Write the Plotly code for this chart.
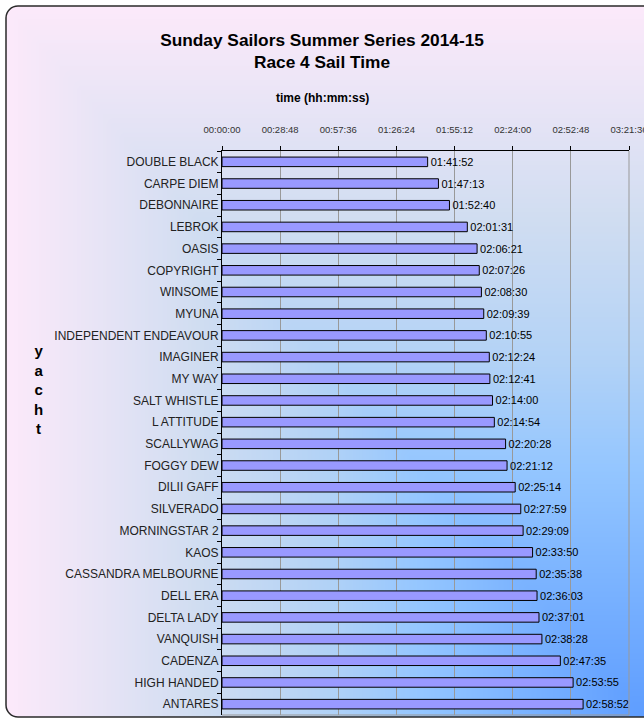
import numpy as np
import plotly.graph_objects as go

# ---------------- data ----------------
yachts = [
    "DOUBLE BLACK", "CARPE DIEM", "DEBONNAIRE", "LEBROK", "OASIS", "COPYRIGHT",
    "WINSOME", "MYUNA", "INDEPENDENT ENDEAVOUR", "IMAGINER", "MY WAY",
    "SALT WHISTLE", "L ATTITUDE", "SCALLYWAG", "FOGGY DEW", "DILII GAFF",
    "SILVERADO", "MORNINGSTAR 2", "KAOS", "CASSANDRA MELBOURNE", "DELL ERA",
    "DELTA LADY", "VANQUISH", "CADENZA", "HIGH HANDED", "ANTARES",
]
sail_times = [
    "01:41:52", "01:47:13", "01:52:40", "02:01:31", "02:06:21", "02:07:26",
    "02:08:30", "02:09:39", "02:10:55", "02:12:24", "02:12:41",
    "02:14:00", "02:14:54", "02:20:28", "02:21:12", "02:25:14",
    "02:27:59", "02:29:09", "02:33:50", "02:35:38", "02:36:03",
    "02:37:01", "02:38:28", "02:47:35", "02:53:55", "02:58:52",
]
tick_labels = ["00:00:00", "00:28:48", "00:57:36", "01:26:24",
               "01:55:12", "02:24:00", "02:52:48", "03:21:36"]


def to_sec(s):
    h, m, sec = (int(p) for p in s.split(":"))
    return h * 3600 + m * 60 + sec


secs = [to_sec(t) for t in sail_times]
tick_secs = [to_sec(t) for t in tick_labels]

# ---------------- geometry helpers ----------------
W, H = 644, 722


def px(x):
    return x / W


def py(y):
    return 1 - y / H


FONT = "Arial, 'Liberation Sans', sans-serif"

# ---------------- background gradient (Excel "from corner" style) ----------------
n = 61
u = np.linspace(0, 1, n)
v = np.linspace(0, 1, n)
Z = np.minimum(u[None, :], v[:, None])
bg_scale = [
    [0.0, "#fce9fa"], [0.1, "#eee6f7"], [0.3, "#d0ddf1"], [0.5, "#b2d2f6"],
    [0.65, "#94c6ff"], [0.8, "#7cb4ff"], [1.0, "#5e9dff"],
]

fig = go.Figure()
fig.add_trace(go.Heatmap(
    x=u, y=v, z=Z, colorscale=bg_scale, zsmooth="best", showscale=False,
    hoverinfo="skip", xaxis="x", yaxis="y",
))

fig.add_trace(go.Bar(
    y=yachts, x=secs, orientation="h", width=0.44,
    marker=dict(color="#9999ff", line=dict(color="#000000", width=1)),
    text=sail_times, textposition="outside", constraintext="none",
    textfont=dict(family=FONT, size=11, color="#000000"),
    cliponaxis=False, xaxis="x2", yaxis="y2", hoverinfo="skip",
))

x0, x1 = 222, 629
y0, y1 = 151, 715

fig.update_layout(
    width=W, height=H,
    autosize=False,
    margin=dict(l=0, r=0, t=0, b=0, pad=0, autoexpand=False),
    paper_bgcolor="#ffffff",
    plot_bgcolor="rgba(0,0,0,0)",
    showlegend=False,
    font=dict(family=FONT),
    xaxis=dict(domain=[px(6), 1], range=[0, 1], visible=False, fixedrange=True, automargin=False),
    yaxis=dict(domain=[py(717), py(6)], range=[1, 0], visible=False, fixedrange=True, automargin=False),
    xaxis2=dict(
        domain=[px(x0), px(x1)], anchor="y2", side="top", automargin=False,
        range=[0, tick_secs[-1]], tickmode="array",
        tickvals=tick_secs, ticktext=tick_labels,
        ticks="outside", ticklen=4, tickcolor="#000000",
        showline=True, linecolor="#000000", linewidth=1,
        showgrid=True, gridcolor="#999999", gridwidth=1, zeroline=False,
        tickfont=dict(family=FONT, size=9.5, color="#333333"),
        ticklabelstandoff=9, ticklabeloverflow="allow",
    ),
    yaxis2=dict(
        domain=[py(y1), py(y0)], anchor="x2", type="category", automargin=False,
        autorange="reversed", tickson="boundaries",
        ticks="outside", ticklen=4, tickcolor="#000000",
        showline=True, linecolor="#000000", linewidth=1,
        showgrid=False, zeroline=False,
        tickfont=dict(family=FONT, size=12, color="#222222"),
        ticklabelstandoff=0,
    ),
    title=dict(
        text="<b>Sunday Sailors Summer Series 2014-15<br>Race 4 Sail Time</b>",
        x=0.5, xref="paper", xanchor="center",
        y=py(46), yref="paper", yanchor="middle", automargin=False,
        font=dict(family=FONT, size=17.3, color="#000000"),
    ),
)

fig.add_annotation(
    text="<b>time (hh:mm:ss)</b>", x=px(322), y=py(98), xref="paper", yref="paper",
    showarrow=False, font=dict(family=FONT, size=12, color="#000000"),
    xanchor="center", yanchor="middle",
)
fig.add_annotation(
    text="<b>y<br>a<br>c<br>h<br>t</b>", x=px(38), y=py(390), xref="paper", yref="paper",
    showarrow=False, font=dict(family=FONT, size=15, color="#000000"),
    xanchor="center", yanchor="middle",
)

# plot-area border (bottom and right, gray)
fig.add_shape(type="path", xref="x2 domain", yref="y2 domain",
              path="M 0,0 L 1,0 L 1,1", line=dict(color="#999999", width=1), layer="above")

# rounded chart frame + white corners outside it
r = 12
k = 0.5523 * r
L, T, B, R = 6, 6, 717, 700


def P(x, y):
    return f"{px(x):.5f},{py(y):.5f}"


corner_tl = f"M {P(0,0)} L {P(L+r,0)} L {P(L+r,T)} C {P(L+r-k,T)} {P(L,T+r-k)} {P(L,T+r)} L {P(0,T+r)} Z"
corner_bl = f"M {P(0,H)} L {P(L+r,H)} L {P(L+r,B)} C {P(L+r-k,B)} {P(L,B-r+k)} {P(L,B-r)} L {P(0,B-r)} Z"
for cp in (corner_tl, corner_bl):
    fig.add_shape(type="path", xref="paper", yref="paper", path=cp,
                  fillcolor="#ffffff", line=dict(width=0), layer="above")

frame = (f"M {P(R,T)} L {P(L+r,T)} C {P(L+r-k,T)} {P(L,T+r-k)} {P(L,T+r)} "
         f"L {P(L,B-r)} C {P(L,B-r+k)} {P(L+r-k,B)} {P(L+r,B)} L {P(R,B)}")
fig.add_shape(type="path", xref="paper", yref="paper", path=frame,
              line=dict(color="#2a2a2a", width=1.5), layer="above")

fig.write_html("out.html", config={"displayModeBar": False},
               post_script="document.body.style.margin='0';")
